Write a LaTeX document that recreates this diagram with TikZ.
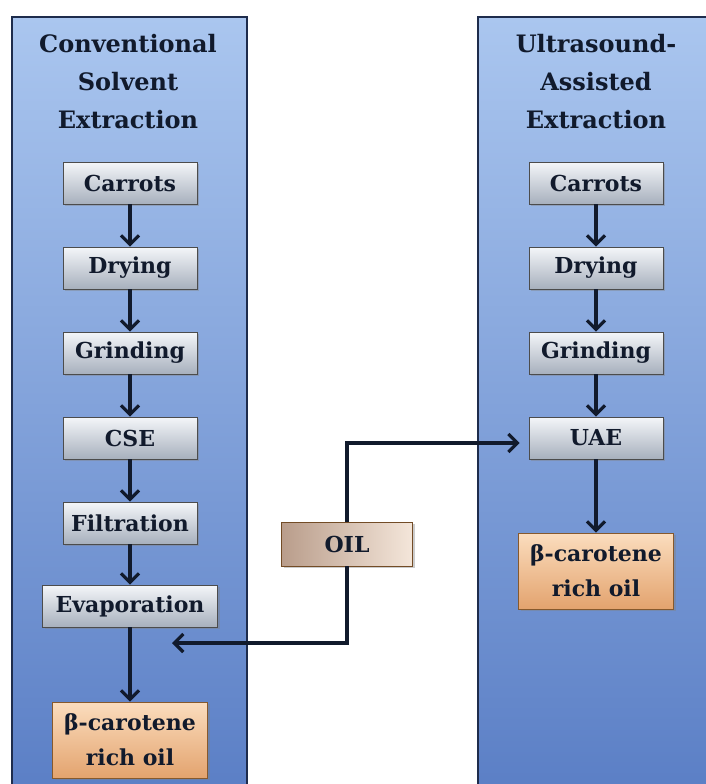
\documentclass[tikz,border=0pt]{standalone}
\usepackage{fontspec}
\setmainfont{DejaVu Serif}
\usepackage{tikz}
\usetikzlibrary{arrows.meta,shadows}
\definecolor{ink}{HTML}{111A2C}
\definecolor{paneltop}{HTML}{AAC6EF}
\definecolor{panelbot}{HTML}{5A7EC5}
\definecolor{panelrim}{HTML}{1E2C4C}
\definecolor{steptop}{HTML}{F4F6F9}
\definecolor{stepbot}{HTML}{A7B0BD}
\definecolor{betatop}{HTML}{FBDDBE}
\definecolor{betabot}{HTML}{E3A36E}
\definecolor{oilleft}{HTML}{B99D8B}
\definecolor{oilright}{HTML}{F4E6DA}
\tikzset{
  panel/.style={draw=panelrim, line width=2pt, top color=paneltop, bottom color=panelbot},
  title/.style={text=ink, align=center, font=\bfseries\fontsize{24}{38}\selectfont},
  stepbox/.style={draw=gray!60!black, semithick, top color=steptop, bottom color=stepbot,
    minimum width=134pt, minimum height=42pt, text=ink, font=\bfseries\fontsize{22}{22}\selectfont,
    drop shadow={opacity=0.4, shadow xshift=2pt, shadow yshift=-2pt}},
  resultbox/.style={draw=brown!70!black, semithick, top color=betatop, bottom color=betabot,
    minimum width=155pt, minimum height=76pt, align=center, text=ink, font=\bfseries\fontsize{22}{35}\selectfont,
    drop shadow={opacity=0.4, shadow xshift=2pt, shadow yshift=-2pt}},
  oilbox/.style={draw=brown!60!black, semithick, left color=oilleft, right color=oilright,
    minimum width=131pt, minimum height=44pt, text=ink, font=\bfseries\fontsize{22}{22}\selectfont,
    drop shadow={opacity=0.4, shadow xshift=2pt, shadow yshift=-2pt}},
  flow/.style={draw=ink, line width=3.2pt, -{Straight Barb[length=9pt,width=18pt,line width=3.2pt]}}
}
\begin{document}
\begin{tikzpicture}[x=1pt,y=-1pt]
\useasboundingbox (0,0) rectangle (706,784);
\fill [white] (0,0) rectangle (706,784);
\begin{scope}
\clip (0,0) rectangle (706,784);
\draw [panel] (12,17) rectangle (247,800);
\draw [panel] (478,17) rectangle (720,800);
\end{scope}
\node [title] (cset) at (128,82) {Conventional\\Solvent\\Extraction};
\node [title] (uaet) at (596,82) {Ultrasound-\\Assisted\\Extraction};
\node [stepbox] (carrotsA) at (130,183) {Carrots};
\node [stepbox] (dryingA) at (130,268) {Drying};
\node [stepbox] (grindingA) at (130,353) {Grinding};
\node [stepbox] (cse) at (130,438) {CSE};
\node [stepbox] (filtration) at (130,523) {Filtration};
\node [stepbox, minimum width=175pt] (evaporation) at (130,606) {Evaporation};
\node [resultbox] (betaA) at (130,740) {β-carotene\\rich oil};
\node [stepbox] (carrotsB) at (596,183) {Carrots};
\node [stepbox] (dryingB) at (596,268) {Drying};
\node [stepbox] (grindingB) at (596,353) {Grinding};
\node [stepbox] (uae) at (596,438) {UAE};
\node [resultbox] (betaB) at (596,571) {β-carotene\\rich oil};
\node [oilbox] (oil) at (347,544) {OIL};
\coordinate (mix) at (172,643);
\draw [flow] (carrotsA) -- (dryingA);
\draw [flow] (dryingA) -- (grindingA);
\draw [flow] (grindingA) -- (cse);
\draw [flow] (cse) -- (filtration);
\draw [flow] (filtration) -- (evaporation);
\draw [flow] (evaporation) -- (betaA);
\draw [flow] (carrotsB) -- (dryingB);
\draw [flow] (dryingB) -- (grindingB);
\draw [flow] (grindingB) -- (uae);
\draw [flow] (uae) -- (betaB);
\draw [flow, shorten >=9pt] (oil.north) |- ([yshift=-5pt]uae.west);
\draw [flow] (oil.south) |- (mix);
\end{tikzpicture}
\end{document}
